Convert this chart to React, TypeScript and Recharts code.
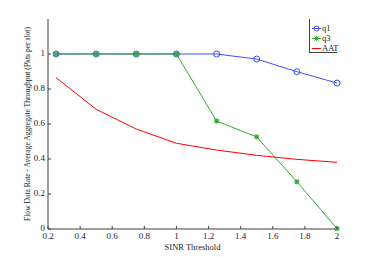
import { Line, LineChart, XAxis, YAxis } from "recharts";

const thresholds = [0.25, 0.5, 0.75, 1, 1.25, 1.5, 1.75, 2];
const q1 = [1, 1, 1, 1, 1, 0.971, 0.899, 0.834];
const q3 = [1, 1, 1, 1, 0.617, 0.526, 0.27, 0.002];
const aat = [0.865, 0.684, 0.571, 0.49, 0.451, 0.421, 0.398, 0.381];

const xTicks = [0.2, 0.4, 0.6, 0.8, 1, 1.2, 1.4, 1.6, 1.8, 2];
const yTicks = [0, 0.2, 0.4, 0.6, 0.8, 1];

const BLUE = "#3a50f0";
const GREEN = "#33a833";
const RED = "#ff0000";
const AXIS = "#404040";
const FONT = "'Liberation Serif', 'DejaVu Serif', serif";

const data = thresholds.map((t, i) => ({ t, q1: q1[i], q3: q3[i], aat: aat[i] }));

// MATLAB-style ticks point into the plot box
const BottomTick = ({ x, y, payload }: any) => (
  <g>
    <line x1={x} x2={x} y1={y} y2={y - 3} stroke={AXIS} />
    <text x={x} y={y + 10} textAnchor="middle" fontSize={9} fontFamily={FONT} fill="#222">
      {payload.value}
    </text>
  </g>
);
const TopTick = ({ x, y }: any) => <line x1={x} x2={x} y1={y} y2={y + 3} stroke={AXIS} />;
const LeftTick = ({ x, y, payload }: any) => (
  <g>
    <line x1={x} x2={x + 3} y1={y} y2={y} stroke={AXIS} />
    <text x={x - 3} y={y + 2} textAnchor="end" fontSize={9} fontFamily={FONT} fill="#222">
      {payload.value}
    </text>
  </g>
);
const RightTick = ({ x, y }: any) => <line x1={x} x2={x - 3} y1={y} y2={y} stroke={AXIS} />;

const CircleDot = ({ cx, cy }: any) => (
  <circle cx={cx} cy={cy} r={3} fill="none" stroke={BLUE} strokeWidth={1} />
);
const StarDot = ({ cx, cy }: any) => (
  <g stroke={GREEN} strokeWidth={1.2}>
    <line x1={cx - 2.5} x2={cx + 2.5} y1={cy} y2={cy} />
    <line x1={cx} x2={cx} y1={cy - 2.5} y2={cy + 2.5} />
    <line x1={cx - 2} x2={cx + 2} y1={cy - 2} y2={cy + 2} />
    <line x1={cx - 2} x2={cx + 2} y1={cy + 2} y2={cy - 2} />
  </g>
);

function LegendBox() {
  const rows = [
    { name: "q1", color: BLUE, mark: "circle" },
    { name: "q3", color: GREEN, mark: "star" },
    { name: "AAT", color: RED, mark: "none" },
  ];
  return (
    <div
      style={{
        position: "absolute",
        left: 309,
        top: 19,
        width: 27,
        height: 33,
        border: `1px solid ${AXIS}`,
        borderTop: "none",
        borderRight: "none",
        background: "#fff",
        fontFamily: FONT,
        fontSize: 8.5,
        color: "#222",
      }}
    >
      {rows.map((r, i) => (
        <div key={r.name} style={{ position: "absolute", top: 5 + i * 10, left: 2, display: "flex", alignItems: "center", lineHeight: "9px" }}>
          <svg width={9} height={9}>
            <line x1={0} x2={9} y1={4.5} y2={4.5} stroke={r.color} strokeWidth={1} />
            {r.mark === "circle" && <circle cx={4.5} cy={4.5} r={2.5} fill="none" stroke={r.color} />}
            {r.mark === "star" && (
              <g stroke={r.color}>
                <line x1={2.5} x2={6.5} y1={2.5} y2={6.5} />
                <line x1={2.5} x2={6.5} y1={6.5} y2={2.5} />
                <line x1={4.5} x2={4.5} y1={2} y2={7} />
              </g>
            )}
          </svg>
          <span style={{ marginLeft: 1 }}>{r.name}</span>
        </div>
      ))}
    </div>
  );
}

export default function App() {
  return (
    <div style={{ position: "fixed", left: 0, top: 0, width: 373, height: 257, background: "#fff" }}>
      <LineChart width={373} height={257} data={data} margin={{ top: 19, right: 36, bottom: 0, left: 0 }}>
        <XAxis
          dataKey="t"
          type="number"
          domain={[0.2, 2]}
          ticks={xTicks}
          tickSize={0}
          tickMargin={0}
          tick={<BottomTick />}
          stroke={AXIS}
          height={28}
          label={{ value: "SINR Threshold", position: "insideBottom", offset: 7, fontSize: 8.5, fontFamily: FONT, fill: "#222" }}
        />
        <XAxis
          xAxisId="top"
          orientation="top"
          dataKey="t"
          type="number"
          domain={[0.2, 2]}
          ticks={xTicks}
          tickSize={0}
          tickMargin={0}
          tick={<TopTick />}
          stroke={AXIS}
          height={0}
        />
        <YAxis
          type="number"
          domain={[0, 1.2]}
          ticks={yTicks}
          tickSize={0}
          tickMargin={0}
          tick={<LeftTick />}
          stroke={AXIS}
          width={48}
          label={{
            value: "Flow Data Rate - Average Aggregate Throughput (Pkts per slot)",
            angle: -90,
            position: "insideLeft",
            offset: 27,
            fontSize: 7.6,
            fontFamily: FONT,
            fill: "#222",
            style: { textAnchor: "middle" },
          }}
        />
        <YAxis
          yAxisId="right"
          orientation="right"
          type="number"
          domain={[0, 1.2]}
          ticks={yTicks}
          tickSize={0}
          tickMargin={0}
          tick={<RightTick />}
          stroke={AXIS}
          width={0}
        />
        <Line dataKey="q1" stroke={BLUE} strokeWidth={1} dot={<CircleDot />} isAnimationActive={false} />
        <Line dataKey="q3" stroke={GREEN} strokeWidth={1} dot={<StarDot />} isAnimationActive={false} />
        <Line dataKey="aat" stroke={RED} strokeWidth={1} dot={false} isAnimationActive={false} />
      </LineChart>
      <LegendBox />
    </div>
  );
}
